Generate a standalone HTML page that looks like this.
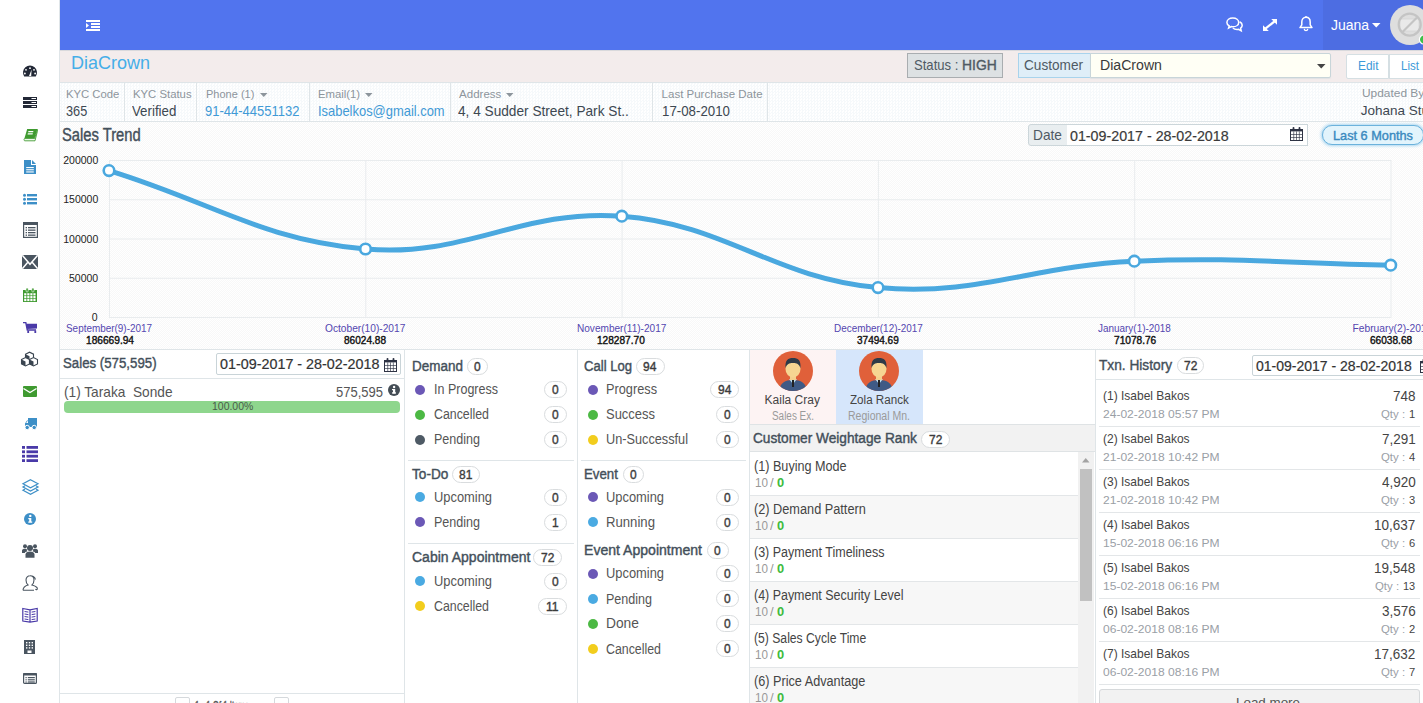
<!DOCTYPE html>
<html><head><meta charset="utf-8"><style>
html,body{margin:0;padding:0;}
html{overflow:hidden;width:1423px;height:703px;}
body{width:1423px;height:703px;overflow:hidden;position:relative;background:#fff;font-family:"Liberation Sans",sans-serif;}
.t{position:absolute;white-space:pre;}
.sb{-webkit-text-stroke:0.4px currentColor;}
.sm{-webkit-text-stroke:0.2px currentColor;}
.b{position:absolute;box-sizing:border-box;}
svg{position:absolute;overflow:visible;}
#root{position:absolute;left:0;top:0;width:1423px;height:703px;overflow:hidden;}
</style></head><body><div id="root">
<div class="b" style="left:0px;top:0px;width:60px;height:703px;background:#fff;border-right:1px solid #dfe5e8;"></div>
<div class="b" style="left:60px;top:0px;width:1363px;height:50px;background:#5174ee;"></div>
<div class="b" style="left:1323px;top:0px;width:100px;height:50px;background:#4d6de2;"></div>
<svg style="left:86px;top:20px" width="15" height="12"><rect x="0" y="0" width="14" height="2" fill="#fff"/><rect x="5" y="3" width="9" height="2" fill="#fff"/><rect x="5" y="6" width="9" height="2" fill="#fff"/><rect x="0" y="9" width="14" height="2" fill="#fff"/><path d="M0 3 L3 5.5 L0 8Z" fill="#fff"/></svg>
<div class="t" style="top:17px;font-size:14.25px;line-height:16px;color:#fff;left:1330.50px;transform:scaleX(0.9826);transform-origin:0 0;">Juana</div>
<svg style="left:1372px;top:23px" width="9" height="5"><path d="M0 0H8.5L4.25 4.5Z" fill="#fff"/></svg>
<svg style="left:1390px;top:5px" width="40" height="40"><circle cx="20" cy="20" r="20" fill="#dedede"/><rect x="10" y="14" width="19" height="12" fill="#e9e9e9" stroke="#d0d0d0" stroke-width="0.6"/><circle cx="19.7" cy="19.6" r="11" fill="none" stroke="#c4c4c4" stroke-width="2.2"/><path d="M12.5 27 L27 12.5" stroke="#c4c4c4" stroke-width="2.2"/></svg>
<svg style="left:1418px;top:34px" width="12" height="12"><circle cx="6" cy="5.5" r="4.6" fill="#3cbf4a" stroke="#fff" stroke-width="1.2"/></svg>
<div class="b" style="left:60px;top:50px;width:1363px;height:33px;background:#f3ecec;border-bottom:1px solid #dfe5e8;"></div>
<div class="b" style="left:60px;top:50px;width:1363px;height:1px;background:#d9d9dc;"></div>
<div class="t" style="top:52px;font-size:18.25px;line-height:21px;color:#45aee8;left:71.40px;transform:scaleX(0.9860);transform-origin:0 0;">DiaCrown</div>
<div class="b" style="left:907px;top:53px;width:96px;height:25px;background:#dde1e3;border:1px solid #a9adb0;"></div>
<div class="t" style="top:56px;font-size:15.00px;line-height:17px;color:#4f5a64;left:913.60px;transform:scaleX(0.8727);transform-origin:0 0;">Status :</div>
<div class="t sb" style="top:56px;font-size:15.00px;line-height:17px;color:#4f5a64;left:961.60px;transform:scaleX(0.9253);transform-origin:0 0;">HIGH</div>
<div class="b" style="left:1018px;top:53px;width:73px;height:25px;background:#dfeef8;border:1px solid #a8d3ec;"></div>
<div class="t" style="top:56px;font-size:15.00px;line-height:17px;color:#4f5a64;left:1024.30px;transform:scaleX(0.9077);transform-origin:0 0;">Customer</div>
<div class="b" style="left:1090px;top:53px;width:241px;height:25px;background:#fffff5;border:1px solid #c8d5d9;border-radius:0 2px 2px 0;box-shadow:0 1px 1px #dfe3e5;"></div>
<div class="t" style="top:56px;font-size:15.25px;line-height:17px;color:#3a3a3a;left:1100.00px;transform:scaleX(0.9254);transform-origin:0 0;">DiaCrown</div>
<svg style="left:1317px;top:64px" width="9" height="5"><path d="M0 0H8.5L4.25 4.5Z" fill="#444"/></svg>
<div class="b" style="left:1346px;top:54px;width:43px;height:25px;background:#fff;border:1px solid #d5dfe3;border-radius:2px 0 0 2px;"></div>
<div class="b" style="left:1389px;top:54px;width:40px;height:25px;background:#fff;border:1px solid #d5dfe3;"></div>
<div class="t" style="top:59px;font-size:12.25px;line-height:14px;color:#3d9ad9;left:1357.50px;transform:scaleX(0.9704);transform-origin:0 0;">Edit</div>
<div class="t" style="top:59px;font-size:12.25px;line-height:14px;color:#3d9ad9;left:1401.00px;transform:scaleX(0.9412);transform-origin:0 0;">List</div>
<div class="b" style="left:60px;top:83px;width:1363px;height:39px;background:repeating-conic-gradient(#f6f9fb 0 25%,#fff 0 50%) 0 0/3px 3px;border-bottom:1px solid #dfe5e8;"></div>
<div class="b" style="left:124px;top:83px;width:1px;height:38px;background:#dfe5e8;"></div>
<div class="b" style="left:196px;top:83px;width:1px;height:38px;background:#dfe5e8;"></div>
<div class="b" style="left:309px;top:83px;width:1px;height:38px;background:#dfe5e8;"></div>
<div class="b" style="left:450px;top:83px;width:1px;height:38px;background:#dfe5e8;"></div>
<div class="b" style="left:652px;top:83px;width:1px;height:38px;background:#dfe5e8;"></div>
<div class="b" style="left:767px;top:83px;width:1px;height:38px;background:#dfe5e8;"></div>
<div class="t" style="top:88px;font-size:11.50px;line-height:12px;color:#8d959c;left:65.70px;transform:scaleX(0.9784);transform-origin:0 0;">KYC Code</div>
<div class="t" style="top:103px;font-size:14.50px;line-height:16px;color:#3d4852;left:65.70px;transform:scaleX(0.8784);transform-origin:0 0;">365</div>
<div class="t" style="top:88px;font-size:11.50px;line-height:12px;color:#8d959c;left:132.80px;transform:scaleX(0.9849);transform-origin:0 0;">KYC Status</div>
<div class="t" style="top:103px;font-size:14.50px;line-height:16px;color:#3d4852;left:132.30px;transform:scaleX(0.9158);transform-origin:0 0;">Verified</div>
<div class="t" style="top:88px;font-size:11.50px;line-height:12px;color:#8d959c;left:205.60px;transform:scaleX(0.9584);transform-origin:0 0;">Phone (1)</div>
<svg style="left:259.5px;top:93px" width="8" height="5"><path d="M0 0H7.5L3.75 4Z" fill="#8d959c"/></svg>
<div class="t" style="top:103px;font-size:14.50px;line-height:16px;color:#3f9ad6;left:205.40px;transform:scaleX(0.8958);transform-origin:0 0;">91-44-44551132</div>
<div class="t" style="top:88px;font-size:11.50px;line-height:12px;color:#8d959c;left:318.40px;transform:scaleX(0.9843);transform-origin:0 0;">Email(1)</div>
<svg style="left:365px;top:93px" width="8" height="5"><path d="M0 0H7.5L3.75 4Z" fill="#8d959c"/></svg>
<div class="t" style="top:103px;font-size:14.50px;line-height:16px;color:#3f9ad6;left:318.40px;transform:scaleX(0.8915);transform-origin:0 0;">Isabelkos@gmail.com</div>
<div class="t" style="top:88px;font-size:11.50px;line-height:12px;color:#8d959c;left:459.10px;">Address</div>
<svg style="left:506.2px;top:93px" width="8" height="5"><path d="M0 0H7.5L3.75 4Z" fill="#8d959c"/></svg>
<div class="t" style="top:103px;font-size:14.50px;line-height:16px;color:#3d4852;left:458.40px;transform:scaleX(0.9417);transform-origin:0 0;">4, 4 Sudder Street, Park St..</div>
<div class="t" style="top:88px;font-size:11.50px;line-height:12px;color:#8d959c;left:661.60px;">Last Purchase Date</div>
<div class="t" style="top:103px;font-size:14.50px;line-height:16px;color:#3d4852;left:661.80px;transform:scaleX(0.9160);transform-origin:0 0;">17-08-2010</div>
<div class="t" style="top:86px;font-size:11.75px;line-height:13px;color:#8d959c;left:1361.80px;transform:scaleX(1.0134);transform-origin:0 0;">Updated By</div>
<div class="t" style="top:103px;font-size:13.50px;line-height:15px;color:#3d4852;left:1360.70px;">Johana Stuart</div>
<div class="b" style="left:60px;top:122px;width:1363px;height:228px;background:repeating-conic-gradient(#f8f8f8 0 25%,#fff 0 50%) 0 0/2px 2px;border-bottom:1px solid #dfe5e8;"></div>
<div class="t sb" style="top:125px;font-size:17.50px;line-height:20px;color:#434f5a;left:62.30px;transform:scaleX(0.8428);transform-origin:0 0;">Sales Trend</div>
<div class="b" style="left:1028px;top:124px;width:40px;height:22px;background:#e9eef0;border:1px solid #ccd6da;border-radius:3px 0 0 3px;"></div>
<div class="b" style="left:1067px;top:124px;width:241px;height:22px;background:#fff;border:1px solid #ccd6da;border-left:none;"></div>
<div class="t" style="top:127px;font-size:14.50px;line-height:16px;color:#4f5a64;left:1032.90px;transform:scaleX(0.9437);transform-origin:0 0;">Date</div>
<div class="t sm" style="top:127px;font-size:15.00px;line-height:17px;color:#3a3a3a;left:1070.00px;transform:scaleX(0.9511);transform-origin:0 0;">01-09-2017 - 28-02-2018</div>
<div class="b" style="left:1322px;top:125px;width:102px;height:20px;background:#e2f4fc;border:1.5px solid #6bb2dc;border-radius:10px;box-shadow:0 0 3px 1px #a9d6f0;"></div>
<div class="t sb" style="top:128px;font-size:13.00px;line-height:15px;color:#3a8abf;left:1332.80px;transform:scaleX(0.9789);transform-origin:0 0;">Last 6 Months</div>
<svg style="left:0;top:0" width="1423" height="703"><line x1="109" y1="160.50" x2="1391" y2="160.50" stroke="#e9ecee" stroke-width="1"/><line x1="109" y1="199.75" x2="1391" y2="199.75" stroke="#e9ecee" stroke-width="1"/><line x1="109" y1="239.00" x2="1391" y2="239.00" stroke="#e9ecee" stroke-width="1"/><line x1="109" y1="278.25" x2="1391" y2="278.25" stroke="#e9ecee" stroke-width="1"/><line x1="109" y1="317.50" x2="1391" y2="317.50" stroke="#e9ecee" stroke-width="1"/><line x1="109.50" y1="160" x2="109.50" y2="318" stroke="#e9ecee" stroke-width="1"/><line x1="365.80" y1="160" x2="365.80" y2="318" stroke="#e9ecee" stroke-width="1"/><line x1="622.10" y1="160" x2="622.10" y2="318" stroke="#e9ecee" stroke-width="1"/><line x1="878.40" y1="160" x2="878.40" y2="318" stroke="#e9ecee" stroke-width="1"/><line x1="1134.70" y1="160" x2="1134.70" y2="318" stroke="#e9ecee" stroke-width="1"/><line x1="1391.00" y1="160" x2="1391.00" y2="318" stroke="#e9ecee" stroke-width="1"/><path d="M109.00 170.60 C211.60 201.96 261.03 239.71 365.50 249.00 C466.15 257.95 520.78 208.59 621.80 216.20 C725.78 224.03 773.87 278.46 878.00 287.60 C978.87 296.46 1031.52 265.69 1134.30 261.20 C1236.60 256.73 1288.14 263.60 1390.70 265.20" fill="none" stroke="#4aa8df" stroke-width="5" stroke-linecap="round"/><circle cx="109.00" cy="170.60" r="5.3" fill="#fff" stroke="#4aa8df" stroke-width="2.6"/><circle cx="365.50" cy="249.00" r="5.3" fill="#fff" stroke="#4aa8df" stroke-width="2.6"/><circle cx="621.80" cy="216.20" r="5.3" fill="#fff" stroke="#4aa8df" stroke-width="2.6"/><circle cx="878.00" cy="287.60" r="5.3" fill="#fff" stroke="#4aa8df" stroke-width="2.6"/><circle cx="1134.30" cy="261.20" r="5.3" fill="#fff" stroke="#4aa8df" stroke-width="2.6"/><circle cx="1390.70" cy="265.20" r="5.3" fill="#fff" stroke="#4aa8df" stroke-width="2.6"/></svg>
<div class="t" style="top:154px;font-size:10.50px;line-height:12px;color:#222;left:63.25px;">200000</div>
<div class="t" style="top:193px;font-size:10.50px;line-height:12px;color:#222;left:63.25px;">150000</div>
<div class="t" style="top:233px;font-size:10.50px;line-height:12px;color:#222;left:63.25px;">100000</div>
<div class="t" style="top:272px;font-size:10.50px;line-height:12px;color:#222;left:69.00px;">50000</div>
<div class="t" style="top:311px;font-size:10.50px;line-height:12px;color:#222;left:91.75px;">0</div>
<div class="t" style="top:323px;font-size:10.25px;line-height:11px;color:#5446b0;left:66.00px;transform:scaleX(0.9677);transform-origin:0 0;">September(9)-2017</div>
<div class="t sb" style="top:334px;font-size:10.50px;line-height:12px;color:#111;left:85.50px;transform:scaleX(0.9673);transform-origin:0 0;">186669.94</div>
<div class="t" style="top:323px;font-size:10.25px;line-height:11px;color:#5446b0;left:325.40px;transform:scaleX(0.9929);transform-origin:0 0;">October(10)-2017</div>
<div class="t sb" style="top:334px;font-size:10.50px;line-height:12px;color:#111;left:344.40px;transform:scaleX(0.9600);transform-origin:0 0;">86024.88</div>
<div class="t" style="top:323px;font-size:10.25px;line-height:11px;color:#5446b0;left:576.90px;transform:scaleX(0.9824);transform-origin:0 0;">November(11)-2017</div>
<div class="t sb" style="top:334px;font-size:10.50px;line-height:12px;color:#111;left:597.40px;transform:scaleX(0.9632);transform-origin:0 0;">128287.70</div>
<div class="t" style="top:323px;font-size:10.25px;line-height:11px;color:#5446b0;left:833.50px;transform:scaleX(0.9689);transform-origin:0 0;">December(12)-2017</div>
<div class="t sb" style="top:334px;font-size:10.50px;line-height:12px;color:#111;left:857.10px;transform:scaleX(0.9531);transform-origin:0 0;">37494.69</div>
<div class="t" style="top:323px;font-size:10.25px;line-height:11px;color:#5446b0;left:1098.10px;transform:scaleX(0.9688);transform-origin:0 0;">January(1)-2018</div>
<div class="t sb" style="top:334px;font-size:10.50px;line-height:12px;color:#111;left:1113.70px;transform:scaleX(0.9646);transform-origin:0 0;">71078.76</div>
<div class="t" style="top:323px;font-size:10.25px;line-height:11px;color:#5446b0;left:1352.50px;">February(2)-2018</div>
<div class="t sb" style="top:334px;font-size:10.50px;line-height:12px;color:#111;left:1369.90px;transform:scaleX(0.9623);transform-origin:0 0;">66038.68</div>
<div class="b" style="left:60px;top:350px;width:1363px;height:353px;background:#fff;"></div>
<div class="b" style="left:404px;top:350px;width:1px;height:353px;background:#dfe5e8;"></div>
<div class="b" style="left:577px;top:350px;width:1px;height:353px;background:#dfe5e8;"></div>
<div class="b" style="left:749px;top:350px;width:1px;height:353px;background:#dfe5e8;"></div>
<div class="b" style="left:1095px;top:350px;width:1px;height:353px;background:#dfe5e8;"></div>
<div class="b" style="left:60px;top:378px;width:344px;height:1px;background:#dfe5e8;"></div>
<div class="t sb" style="top:354px;font-size:15.50px;line-height:17px;color:#434f5a;left:63.00px;transform:scaleX(0.8548);transform-origin:0 0;">Sales (575,595)</div>
<div class="b" style="left:216px;top:353px;width:185px;height:22px;background:#fff;border:1px solid #c9d4d8;border-radius:2px;"></div>
<div class="t sm" style="top:356px;font-size:14.00px;line-height:16px;color:#333;left:219.60px;transform:scaleX(1.0243);transform-origin:0 0;">01-09-2017 - 28-02-2018</div>
<div class="t" style="top:384px;font-size:14.50px;line-height:16px;color:#555;left:64.00px;transform:scaleX(0.9435);transform-origin:0 0;">(1) Taraka  Sonde</div>
<div class="t" style="top:384px;font-size:14.50px;line-height:16px;color:#555;left:336.00px;transform:scaleX(0.8974);transform-origin:0 0;">575,595</div>
<svg style="left:388px;top:384px" width="12" height="12"><circle cx="6" cy="6" r="6" fill="#444d55"/><rect x="5" y="5" width="2.2" height="4.5" fill="#fff"/><rect x="4" y="8.3" width="4" height="1.3" fill="#fff"/><rect x="4" y="5" width="2" height="1.2" fill="#fff"/><circle cx="6.1" cy="3" r="1.2" fill="#fff"/></svg>
<div class="b" style="left:64px;top:401px;width:336px;height:12px;background:#8ed68d;border-radius:4px;"></div>
<div class="t" style="top:401px;font-size:10.25px;line-height:11px;color:#4a5a4a;left:211.50px;transform:scaleX(1.0198);transform-origin:0 0;">100.00%</div>
<div class="b" style="left:60px;top:693px;width:344px;height:1px;background:#dfe5e8;"></div>
<div class="b" style="left:175px;top:697px;width:15px;height:16px;background:#fff;border:1px solid #d5d9dc;border-radius:2px;"></div>
<div class="b" style="left:274px;top:697px;width:15px;height:16px;background:#fff;border:1px solid #d5d9dc;border-radius:2px;"></div>
<div class="t sb" style="top:698px;font-size:13.00px;line-height:15px;color:#555;left:195.00px;transform:scaleX(0.6025);transform-origin:0 0;">1 - 1 Of 1 Items</div>
<div class="t sb" style="top:358px;font-size:14.25px;line-height:16px;color:#434f5a;left:411.70px;transform:scaleX(0.9448);transform-origin:0 0;">Demand</div>
<div class="b" style="left:466.5px;top:358.0px;width:21.9px;height:17px;background:#fff;border:1px solid #d9dcde;border-radius:9px;"></div>
<div class="t sb" style="top:359px;font-size:13.25px;line-height:15px;color:#3c3c3c;left:474.12px;transform:scaleX(0.9044);transform-origin:0 0;">0</div>
<svg style="left:415.2px;top:384.5px" width="10" height="10"><circle cx="5" cy="5" r="5" fill="#6b58b6"/></svg>
<div class="t" style="top:381px;font-size:14.25px;line-height:16px;color:#555;left:433.70px;transform:scaleX(0.8782);transform-origin:0 0;">In Progress</div>
<div class="b" style="left:543.7px;top:381.0px;width:23.0px;height:17px;background:#fff;border:1px solid #d9dcde;border-radius:9px;"></div>
<div class="t sb" style="top:382px;font-size:13.25px;line-height:15px;color:#3c3c3c;left:551.87px;transform:scaleX(0.9044);transform-origin:0 0;">0</div>
<svg style="left:415.2px;top:409.5px" width="10" height="10"><circle cx="5" cy="5" r="5" fill="#4cb944"/></svg>
<div class="t" style="top:406px;font-size:14.25px;line-height:16px;color:#555;left:433.70px;transform:scaleX(0.8679);transform-origin:0 0;">Cancelled</div>
<div class="b" style="left:543.7px;top:406.0px;width:23.0px;height:17px;background:#fff;border:1px solid #d9dcde;border-radius:9px;"></div>
<div class="t sb" style="top:407px;font-size:13.25px;line-height:15px;color:#3c3c3c;left:551.87px;transform:scaleX(0.9044);transform-origin:0 0;">0</div>
<svg style="left:415.2px;top:434.5px" width="10" height="10"><circle cx="5" cy="5" r="5" fill="#4e5a65"/></svg>
<div class="t" style="top:431px;font-size:14.25px;line-height:16px;color:#555;left:433.70px;transform:scaleX(0.8804);transform-origin:0 0;">Pending</div>
<div class="b" style="left:543.7px;top:431.0px;width:23.0px;height:17px;background:#fff;border:1px solid #d9dcde;border-radius:9px;"></div>
<div class="t sb" style="top:432px;font-size:13.25px;line-height:15px;color:#3c3c3c;left:551.87px;transform:scaleX(0.9044);transform-origin:0 0;">0</div>
<div class="b" style="left:408px;top:460px;width:166px;height:1px;background:#dfe5e8;"></div>
<div class="t sb" style="top:466px;font-size:14.25px;line-height:16px;color:#434f5a;left:411.70px;transform:scaleX(0.9553);transform-origin:0 0;">To-Do</div>
<div class="b" style="left:452px;top:465.7px;width:28.3px;height:17px;background:#fff;border:1px solid #d9dcde;border-radius:9px;"></div>
<div class="t sb" style="top:467px;font-size:13.25px;line-height:15px;color:#3c3c3c;left:459.48px;transform:scaleX(0.9044);transform-origin:0 0;">81</div>
<svg style="left:415.2px;top:492px" width="10" height="10"><circle cx="5" cy="5" r="5" fill="#4aaae2"/></svg>
<div class="t" style="top:489px;font-size:14.25px;line-height:16px;color:#555;left:433.70px;transform:scaleX(0.9045);transform-origin:0 0;">Upcoming</div>
<div class="b" style="left:543.7px;top:488.5px;width:23.0px;height:17px;background:#fff;border:1px solid #d9dcde;border-radius:9px;"></div>
<div class="t sb" style="top:490px;font-size:13.25px;line-height:15px;color:#3c3c3c;left:551.87px;transform:scaleX(0.9044);transform-origin:0 0;">0</div>
<svg style="left:415.2px;top:517px" width="10" height="10"><circle cx="5" cy="5" r="5" fill="#6b58b6"/></svg>
<div class="t" style="top:514px;font-size:14.25px;line-height:16px;color:#555;left:433.70px;transform:scaleX(0.8804);transform-origin:0 0;">Pending</div>
<div class="b" style="left:543.7px;top:513.5px;width:23.0px;height:17px;background:#fff;border:1px solid #d9dcde;border-radius:9px;"></div>
<div class="t sb" style="top:515px;font-size:13.25px;line-height:15px;color:#3c3c3c;left:551.87px;transform:scaleX(0.9044);transform-origin:0 0;">1</div>
<div class="b" style="left:408px;top:543px;width:166px;height:1px;background:#dfe5e8;"></div>
<div class="t sb" style="top:549px;font-size:14.25px;line-height:16px;color:#434f5a;left:411.70px;transform:scaleX(0.9828);transform-origin:0 0;">Cabin Appointment</div>
<div class="b" style="left:533px;top:548.7px;width:29px;height:17px;background:#fff;border:1px solid #d9dcde;border-radius:9px;"></div>
<div class="t sb" style="top:550px;font-size:13.25px;line-height:15px;color:#3c3c3c;left:540.83px;transform:scaleX(0.9044);transform-origin:0 0;">72</div>
<svg style="left:415.2px;top:576px" width="10" height="10"><circle cx="5" cy="5" r="5" fill="#4aaae2"/></svg>
<div class="t" style="top:573px;font-size:14.25px;line-height:16px;color:#555;left:433.70px;transform:scaleX(0.9045);transform-origin:0 0;">Upcoming</div>
<div class="b" style="left:543.7px;top:572.5px;width:23.0px;height:17px;background:#fff;border:1px solid #d9dcde;border-radius:9px;"></div>
<div class="t sb" style="top:574px;font-size:13.25px;line-height:15px;color:#3c3c3c;left:551.87px;transform:scaleX(0.9044);transform-origin:0 0;">0</div>
<svg style="left:415.2px;top:601px" width="10" height="10"><circle cx="5" cy="5" r="5" fill="#f2cd1d"/></svg>
<div class="t" style="top:598px;font-size:14.25px;line-height:16px;color:#555;left:433.70px;transform:scaleX(0.8679);transform-origin:0 0;">Cancelled</div>
<div class="b" style="left:537.7px;top:597.5px;width:29.0px;height:17px;background:#fff;border:1px solid #d9dcde;border-radius:9px;"></div>
<div class="t sb" style="top:599px;font-size:13.25px;line-height:15px;color:#3c3c3c;left:545.88px;transform:scaleX(0.9200);transform-origin:0 0;">11</div>
<div class="t sb" style="top:358px;font-size:14.25px;line-height:16px;color:#434f5a;left:584.00px;transform:scaleX(0.9187);transform-origin:0 0;">Call Log</div>
<div class="b" style="left:635.7px;top:358.0px;width:28.9px;height:17px;background:#fff;border:1px solid #d9dcde;border-radius:9px;"></div>
<div class="t sb" style="top:359px;font-size:13.25px;line-height:15px;color:#3c3c3c;left:643.48px;transform:scaleX(0.9044);transform-origin:0 0;">94</div>
<svg style="left:587.5px;top:384.5px" width="10" height="10"><circle cx="5" cy="5" r="5" fill="#6b58b6"/></svg>
<div class="t" style="top:381px;font-size:14.25px;line-height:16px;color:#555;left:606.00px;transform:scaleX(0.8947);transform-origin:0 0;">Progress</div>
<div class="b" style="left:710px;top:381.0px;width:29px;height:17px;background:#fff;border:1px solid #d9dcde;border-radius:9px;"></div>
<div class="t sb" style="top:382px;font-size:13.25px;line-height:15px;color:#3c3c3c;left:717.83px;transform:scaleX(0.9044);transform-origin:0 0;">94</div>
<svg style="left:587.5px;top:409.5px" width="10" height="10"><circle cx="5" cy="5" r="5" fill="#4cb944"/></svg>
<div class="t" style="top:406px;font-size:14.25px;line-height:16px;color:#555;left:606.00px;transform:scaleX(0.9095);transform-origin:0 0;">Success</div>
<div class="b" style="left:716px;top:406.0px;width:23px;height:17px;background:#fff;border:1px solid #d9dcde;border-radius:9px;"></div>
<div class="t sb" style="top:407px;font-size:13.25px;line-height:15px;color:#3c3c3c;left:724.16px;transform:scaleX(0.9044);transform-origin:0 0;">0</div>
<svg style="left:587.5px;top:434.5px" width="10" height="10"><circle cx="5" cy="5" r="5" fill="#f2cd1d"/></svg>
<div class="t" style="top:431px;font-size:14.25px;line-height:16px;color:#555;left:606.00px;transform:scaleX(0.8925);transform-origin:0 0;">Un-Successful</div>
<div class="b" style="left:716px;top:431.0px;width:23px;height:17px;background:#fff;border:1px solid #d9dcde;border-radius:9px;"></div>
<div class="t sb" style="top:432px;font-size:13.25px;line-height:15px;color:#3c3c3c;left:724.16px;transform:scaleX(0.9044);transform-origin:0 0;">0</div>
<div class="b" style="left:581px;top:460px;width:165px;height:1px;background:#dfe5e8;"></div>
<div class="t sb" style="top:466px;font-size:14.25px;line-height:16px;color:#434f5a;left:584.00px;transform:scaleX(0.9315);transform-origin:0 0;">Event</div>
<div class="b" style="left:622.7px;top:465.7px;width:21.6px;height:17px;background:#fff;border:1px solid #d9dcde;border-radius:9px;"></div>
<div class="t sb" style="top:467px;font-size:13.25px;line-height:15px;color:#3c3c3c;left:630.16px;transform:scaleX(0.9044);transform-origin:0 0;">0</div>
<svg style="left:587.5px;top:492px" width="10" height="10"><circle cx="5" cy="5" r="5" fill="#6b58b6"/></svg>
<div class="t" style="top:489px;font-size:14.25px;line-height:16px;color:#555;left:606.00px;transform:scaleX(0.9045);transform-origin:0 0;">Upcoming</div>
<div class="b" style="left:716px;top:488.5px;width:23px;height:17px;background:#fff;border:1px solid #d9dcde;border-radius:9px;"></div>
<div class="t sb" style="top:490px;font-size:13.25px;line-height:15px;color:#3c3c3c;left:724.16px;transform:scaleX(0.9044);transform-origin:0 0;">0</div>
<svg style="left:587.5px;top:517px" width="10" height="10"><circle cx="5" cy="5" r="5" fill="#4aaae2"/></svg>
<div class="t" style="top:514px;font-size:14.25px;line-height:16px;color:#555;left:606.00px;transform:scaleX(0.9224);transform-origin:0 0;">Running</div>
<div class="b" style="left:716px;top:513.5px;width:23px;height:17px;background:#fff;border:1px solid #d9dcde;border-radius:9px;"></div>
<div class="t sb" style="top:515px;font-size:13.25px;line-height:15px;color:#3c3c3c;left:724.16px;transform:scaleX(0.9044);transform-origin:0 0;">0</div>
<div class="t sb" style="top:542px;font-size:14.25px;line-height:16px;color:#434f5a;left:584.00px;transform:scaleX(0.9864);transform-origin:0 0;">Event Appointment</div>
<div class="b" style="left:706.6px;top:541.7px;width:22.1px;height:17px;background:#fff;border:1px solid #d9dcde;border-radius:9px;"></div>
<div class="t sb" style="top:543px;font-size:13.25px;line-height:15px;color:#3c3c3c;left:714.32px;transform:scaleX(0.9044);transform-origin:0 0;">0</div>
<svg style="left:587.5px;top:568.6px" width="10" height="10"><circle cx="5" cy="5" r="5" fill="#6b58b6"/></svg>
<div class="t" style="top:565px;font-size:14.25px;line-height:16px;color:#555;left:606.00px;transform:scaleX(0.9045);transform-origin:0 0;">Upcoming</div>
<div class="b" style="left:716px;top:565.1px;width:23px;height:17px;background:#fff;border:1px solid #d9dcde;border-radius:9px;"></div>
<div class="t sb" style="top:566px;font-size:13.25px;line-height:15px;color:#3c3c3c;left:724.16px;transform:scaleX(0.9044);transform-origin:0 0;">0</div>
<svg style="left:587.5px;top:593.6px" width="10" height="10"><circle cx="5" cy="5" r="5" fill="#4aaae2"/></svg>
<div class="t" style="top:591px;font-size:14.25px;line-height:16px;color:#555;left:606.00px;transform:scaleX(0.8804);transform-origin:0 0;">Pending</div>
<div class="b" style="left:716px;top:590.1px;width:23px;height:17px;background:#fff;border:1px solid #d9dcde;border-radius:9px;"></div>
<div class="t sb" style="top:591px;font-size:13.25px;line-height:15px;color:#3c3c3c;left:724.16px;transform:scaleX(0.9044);transform-origin:0 0;">0</div>
<svg style="left:587.5px;top:618.6px" width="10" height="10"><circle cx="5" cy="5" r="5" fill="#4cb944"/></svg>
<div class="t" style="top:615px;font-size:14.25px;line-height:16px;color:#555;left:606.00px;transform:scaleX(0.9670);transform-origin:0 0;">Done</div>
<div class="b" style="left:716px;top:615.1px;width:23px;height:17px;background:#fff;border:1px solid #d9dcde;border-radius:9px;"></div>
<div class="t sb" style="top:616px;font-size:13.25px;line-height:15px;color:#3c3c3c;left:724.16px;transform:scaleX(0.9044);transform-origin:0 0;">0</div>
<svg style="left:587.5px;top:643.6px" width="10" height="10"><circle cx="5" cy="5" r="5" fill="#f2cd1d"/></svg>
<div class="t" style="top:641px;font-size:14.25px;line-height:16px;color:#555;left:606.00px;transform:scaleX(0.8679);transform-origin:0 0;">Cancelled</div>
<div class="b" style="left:716px;top:640.1px;width:23px;height:17px;background:#fff;border:1px solid #d9dcde;border-radius:9px;"></div>
<div class="t sb" style="top:641px;font-size:13.25px;line-height:15px;color:#3c3c3c;left:724.16px;transform:scaleX(0.9044);transform-origin:0 0;">0</div>
<div class="b" style="left:750px;top:350px;width:86px;height:74px;background:#fdf3f3;"></div>
<div class="b" style="left:836px;top:350px;width:87px;height:74px;background:#d6e6fb;"></div>
<svg style="left:773px;top:351px" width="40" height="40" viewBox="0 0 40 40"><defs><clipPath id="c793"><circle cx="20" cy="20" r="20"/></clipPath></defs><circle cx="20" cy="20" r="20" fill="#e0603a"/><g clip-path="url(#c793)"><path d="M6 40 C7 32 12 29 20 29 C28 29 33 32 34 40Z" fill="#3f5a85"/><path d="M16 28 L20 33 L24 28Z" fill="#bfe0f0"/><rect x="19" y="29" width="2" height="7" fill="#222"/><rect x="17" y="22" width="6" height="7" fill="#f4cf8e"/><ellipse cx="20" cy="18" rx="7.5" ry="8.5" fill="#f6d592"/><path d="M12.5 17 C12 9 15 7 20 7 C25 7 28 9 27.5 17 C26 13 24 12 20 12 C16 12 14 13 12.5 17Z" fill="#2e3a48"/></g></svg>
<svg style="left:859px;top:351px" width="40" height="40" viewBox="0 0 40 40"><defs><clipPath id="c879"><circle cx="20" cy="20" r="20"/></clipPath></defs><circle cx="20" cy="20" r="20" fill="#e0603a"/><g clip-path="url(#c879)"><path d="M6 40 C7 32 12 29 20 29 C28 29 33 32 34 40Z" fill="#3f5a85"/><path d="M16 28 L20 33 L24 28Z" fill="#bfe0f0"/><rect x="19" y="29" width="2" height="7" fill="#222"/><rect x="17" y="22" width="6" height="7" fill="#f4cf8e"/><ellipse cx="20" cy="18" rx="7.5" ry="8.5" fill="#f6d592"/><path d="M12.5 17 C12 9 15 7 20 7 C25 7 28 9 27.5 17 C26 13 24 12 20 12 C16 12 14 13 12.5 17Z" fill="#2e3a48"/></g></svg>
<div class="t" style="top:393px;font-size:12.00px;line-height:14px;color:#444;left:764.60px;">Kaila Cray</div>
<div class="t" style="top:409px;font-size:12.00px;line-height:14px;color:#9a9a9a;left:772.00px;transform:scaleX(0.8276);transform-origin:0 0;">Sales Ex.</div>
<div class="t" style="top:393px;font-size:12.00px;line-height:14px;color:#444;left:850.00px;transform:scaleX(0.9692);transform-origin:0 0;">Zola Ranck</div>
<div class="t" style="top:409px;font-size:12.00px;line-height:14px;color:#9a9a9a;left:848.00px;transform:scaleX(0.8763);transform-origin:0 0;">Regional Mn.</div>
<div class="b" style="left:750px;top:424px;width:345px;height:28px;background:#f2f2f2;border-top:1px solid #dfe3e5;border-bottom:1px solid #dfe3e5;"></div>
<div class="t sb" style="top:430px;font-size:14.00px;line-height:16px;color:#434f5a;left:753.00px;transform:scaleX(0.9762);transform-origin:0 0;">Customer Weightage Rank</div>
<div class="b" style="left:921px;top:430.5px;width:28.6px;height:17px;background:#fff;border:1px solid #d9dcde;border-radius:9px;"></div>
<div class="t sb" style="top:432px;font-size:13.25px;line-height:15px;color:#3c3c3c;left:928.63px;transform:scaleX(0.9044);transform-origin:0 0;">72</div>
<div class="b" style="left:750px;top:452px;width:328px;height:44px;background:#fff;border-bottom:1px solid #e3e6e8;"></div>
<div class="t" style="top:458px;font-size:14.25px;line-height:16px;color:#444;left:754.20px;transform:scaleX(0.8861);transform-origin:0 0;">(1) Buying Mode</div>
<div class="t" style="top:476px;font-size:12.00px;line-height:14px;color:#999;left:754.50px;transform:scaleX(0.9720);transform-origin:0 0;">10</div>
<div class="t" style="top:475px;font-size:12.75px;line-height:15px;color:#999;left:770.00px;transform:scaleX(1.0207);transform-origin:0 0;">/</div>
<div class="t" style="top:475px;font-size:12.75px;line-height:15px;color:#3dbb3d;font-weight:bold;left:777.00px;transform:scaleX(1.0105);transform-origin:0 0;">0</div>
<div class="b" style="left:750px;top:496px;width:328px;height:43px;background:#f7f7f7;border-bottom:1px solid #e3e6e8;"></div>
<div class="t" style="top:501px;font-size:14.25px;line-height:16px;color:#444;left:754.20px;transform:scaleX(0.8935);transform-origin:0 0;">(2) Demand Pattern</div>
<div class="t" style="top:519px;font-size:12.00px;line-height:14px;color:#999;left:754.50px;transform:scaleX(0.9720);transform-origin:0 0;">10</div>
<div class="t" style="top:518px;font-size:12.75px;line-height:15px;color:#999;left:770.00px;transform:scaleX(1.0207);transform-origin:0 0;">/</div>
<div class="t" style="top:518px;font-size:12.75px;line-height:15px;color:#3dbb3d;font-weight:bold;left:777.00px;transform:scaleX(1.0105);transform-origin:0 0;">0</div>
<div class="b" style="left:750px;top:539px;width:328px;height:43px;background:#fff;border-bottom:1px solid #e3e6e8;"></div>
<div class="t" style="top:544px;font-size:14.25px;line-height:16px;color:#444;left:754.20px;transform:scaleX(0.8766);transform-origin:0 0;">(3) Payment Timeliness</div>
<div class="t" style="top:562px;font-size:12.00px;line-height:14px;color:#999;left:754.50px;transform:scaleX(0.9720);transform-origin:0 0;">10</div>
<div class="t" style="top:561px;font-size:12.75px;line-height:15px;color:#999;left:770.00px;transform:scaleX(1.0207);transform-origin:0 0;">/</div>
<div class="t" style="top:561px;font-size:12.75px;line-height:15px;color:#3dbb3d;font-weight:bold;left:777.00px;transform:scaleX(1.0105);transform-origin:0 0;">0</div>
<div class="b" style="left:750px;top:582px;width:328px;height:43px;background:#f7f7f7;border-bottom:1px solid #e3e6e8;"></div>
<div class="t" style="top:587px;font-size:14.25px;line-height:16px;color:#444;left:754.20px;transform:scaleX(0.8736);transform-origin:0 0;">(4) Payment Security Level</div>
<div class="t" style="top:605px;font-size:12.00px;line-height:14px;color:#999;left:754.50px;transform:scaleX(0.9720);transform-origin:0 0;">10</div>
<div class="t" style="top:604px;font-size:12.75px;line-height:15px;color:#999;left:770.00px;transform:scaleX(1.0207);transform-origin:0 0;">/</div>
<div class="t" style="top:604px;font-size:12.75px;line-height:15px;color:#3dbb3d;font-weight:bold;left:777.00px;transform:scaleX(1.0105);transform-origin:0 0;">0</div>
<div class="b" style="left:750px;top:625px;width:328px;height:43px;background:#fff;border-bottom:1px solid #e3e6e8;"></div>
<div class="t" style="top:630px;font-size:14.25px;line-height:16px;color:#444;left:754.20px;transform:scaleX(0.8540);transform-origin:0 0;">(5) Sales Cycle Time</div>
<div class="t" style="top:648px;font-size:12.00px;line-height:14px;color:#999;left:754.50px;transform:scaleX(0.9720);transform-origin:0 0;">10</div>
<div class="t" style="top:647px;font-size:12.75px;line-height:15px;color:#999;left:770.00px;transform:scaleX(1.0207);transform-origin:0 0;">/</div>
<div class="t" style="top:647px;font-size:12.75px;line-height:15px;color:#3dbb3d;font-weight:bold;left:777.00px;transform:scaleX(1.0105);transform-origin:0 0;">0</div>
<div class="b" style="left:750px;top:668px;width:328px;height:43px;background:#f7f7f7;border-bottom:1px solid #e3e6e8;"></div>
<div class="t" style="top:673px;font-size:14.25px;line-height:16px;color:#444;left:754.20px;transform:scaleX(0.8895);transform-origin:0 0;">(6) Price Advantage</div>
<div class="t" style="top:691px;font-size:12.00px;line-height:14px;color:#999;left:754.50px;transform:scaleX(0.9720);transform-origin:0 0;">10</div>
<div class="t" style="top:690px;font-size:12.75px;line-height:15px;color:#999;left:770.00px;transform:scaleX(1.0207);transform-origin:0 0;">/</div>
<div class="t" style="top:690px;font-size:12.75px;line-height:15px;color:#3dbb3d;font-weight:bold;left:777.00px;transform:scaleX(1.0105);transform-origin:0 0;">0</div>
<div class="b" style="left:1078px;top:452px;width:16px;height:251px;background:#f1f1f1;"></div>
<div class="b" style="left:1080px;top:469px;width:12px;height:132px;background:#c1c1c1;"></div>
<svg style="left:1082px;top:458px" width="8" height="5"><path d="M0 4.5H7.5L3.75 0Z" fill="#a3a3a3"/></svg>
<div class="b" style="left:1096px;top:379px;width:327px;height:1px;background:#dfe5e8;"></div>
<div class="t sb" style="top:356px;font-size:15.50px;line-height:17px;color:#434f5a;left:1099.40px;transform:scaleX(0.8835);transform-origin:0 0;">Txn. History</div>
<div class="b" style="left:1176.6px;top:357.0px;width:27.6px;height:17px;background:#fff;border:1px solid #d9dcde;border-radius:9px;"></div>
<div class="t sb" style="top:358px;font-size:13.25px;line-height:15px;color:#3c3c3c;left:1183.73px;transform:scaleX(0.9044);transform-origin:0 0;">72</div>
<div class="b" style="left:1252px;top:355px;width:175px;height:21px;background:#fff;border:1px solid #c9d4d8;border-radius:2px;"></div>
<div class="t sm" style="top:358px;font-size:14.00px;line-height:16px;color:#333;left:1256.00px;">01-09-2017 - 28-02-2018</div>
<div class="t" style="top:389px;font-size:12.25px;line-height:14px;color:#444;left:1103.40px;transform:scaleX(0.9785);transform-origin:0 0;">(1) Isabel Bakos</div>
<div class="t" style="top:408px;font-size:11.25px;line-height:12px;color:#9aa0a6;left:1103.40px;transform:scaleX(1.0710);transform-origin:0 0;">24-02-2018 05:57 PM</div>
<div class="t" style="top:388px;font-size:14.50px;line-height:16px;color:#444;left:1392.95px;transform:scaleX(0.9300);transform-origin:0 0;">748</div>
<div class="t" style="top:407px;font-size:11.75px;line-height:13px;color:#444;left:1409.33px;transform:scaleX(0.9500);transform-origin:0 0;">1</div>
<div class="t" style="top:407px;font-size:11.75px;line-height:13px;color:#9aa0a6;left:1380.83px;transform:scaleX(0.9697);transform-origin:0 0;">Qty :</div>
<div class="b" style="left:1099px;top:426px;width:321px;height:1px;background:#e3e6e8;"></div>
<div class="t" style="top:432px;font-size:12.25px;line-height:14px;color:#444;left:1103.40px;transform:scaleX(0.9785);transform-origin:0 0;">(2) Isabel Bakos</div>
<div class="t" style="top:451px;font-size:11.25px;line-height:12px;color:#9aa0a6;left:1103.40px;transform:scaleX(1.0710);transform-origin:0 0;">21-02-2018 10:42 PM</div>
<div class="t" style="top:431px;font-size:14.50px;line-height:16px;color:#444;left:1381.79px;transform:scaleX(0.9300);transform-origin:0 0;">7,291</div>
<div class="t" style="top:450px;font-size:11.75px;line-height:13px;color:#444;left:1409.33px;transform:scaleX(0.9500);transform-origin:0 0;">4</div>
<div class="t" style="top:450px;font-size:11.75px;line-height:13px;color:#9aa0a6;left:1380.83px;transform:scaleX(0.9697);transform-origin:0 0;">Qty :</div>
<div class="b" style="left:1099px;top:469px;width:321px;height:1px;background:#e3e6e8;"></div>
<div class="t" style="top:475px;font-size:12.25px;line-height:14px;color:#444;left:1103.40px;transform:scaleX(0.9785);transform-origin:0 0;">(3) Isabel Bakos</div>
<div class="t" style="top:494px;font-size:11.25px;line-height:12px;color:#9aa0a6;left:1103.40px;transform:scaleX(1.0710);transform-origin:0 0;">21-02-2018 10:42 PM</div>
<div class="t" style="top:474px;font-size:14.50px;line-height:16px;color:#444;left:1381.79px;transform:scaleX(0.9300);transform-origin:0 0;">4,920</div>
<div class="t" style="top:493px;font-size:11.75px;line-height:13px;color:#444;left:1409.33px;transform:scaleX(0.9500);transform-origin:0 0;">3</div>
<div class="t" style="top:493px;font-size:11.75px;line-height:13px;color:#9aa0a6;left:1380.83px;transform:scaleX(0.9697);transform-origin:0 0;">Qty :</div>
<div class="b" style="left:1099px;top:512px;width:321px;height:1px;background:#e3e6e8;"></div>
<div class="t" style="top:518px;font-size:12.25px;line-height:14px;color:#444;left:1103.40px;transform:scaleX(0.9785);transform-origin:0 0;">(4) Isabel Bakos</div>
<div class="t" style="top:537px;font-size:11.25px;line-height:12px;color:#9aa0a6;left:1103.40px;transform:scaleX(1.0710);transform-origin:0 0;">15-02-2018 06:16 PM</div>
<div class="t" style="top:517px;font-size:14.50px;line-height:16px;color:#444;left:1374.23px;transform:scaleX(0.9300);transform-origin:0 0;">10,637</div>
<div class="t" style="top:536px;font-size:11.75px;line-height:13px;color:#444;left:1409.33px;transform:scaleX(0.9500);transform-origin:0 0;">6</div>
<div class="t" style="top:536px;font-size:11.75px;line-height:13px;color:#9aa0a6;left:1380.83px;transform:scaleX(0.9697);transform-origin:0 0;">Qty :</div>
<div class="b" style="left:1099px;top:555px;width:321px;height:1px;background:#e3e6e8;"></div>
<div class="t" style="top:561px;font-size:12.25px;line-height:14px;color:#444;left:1103.40px;transform:scaleX(0.9785);transform-origin:0 0;">(5) Isabel Bakos</div>
<div class="t" style="top:580px;font-size:11.25px;line-height:12px;color:#9aa0a6;left:1103.40px;transform:scaleX(1.0710);transform-origin:0 0;">15-02-2018 06:16 PM</div>
<div class="t" style="top:560px;font-size:14.50px;line-height:16px;color:#444;left:1374.23px;transform:scaleX(0.9300);transform-origin:0 0;">19,548</div>
<div class="t" style="top:579px;font-size:11.75px;line-height:13px;color:#444;left:1403.27px;transform:scaleX(0.9319);transform-origin:0 0;">13</div>
<div class="t" style="top:579px;font-size:11.75px;line-height:13px;color:#9aa0a6;left:1374.77px;transform:scaleX(0.9697);transform-origin:0 0;">Qty :</div>
<div class="b" style="left:1099px;top:598px;width:321px;height:1px;background:#e3e6e8;"></div>
<div class="t" style="top:604px;font-size:12.25px;line-height:14px;color:#444;left:1103.40px;transform:scaleX(0.9785);transform-origin:0 0;">(6) Isabel Bakos</div>
<div class="t" style="top:623px;font-size:11.25px;line-height:12px;color:#9aa0a6;left:1103.40px;transform:scaleX(1.0710);transform-origin:0 0;">06-02-2018 08:16 PM</div>
<div class="t" style="top:603px;font-size:14.50px;line-height:16px;color:#444;left:1381.79px;transform:scaleX(0.9300);transform-origin:0 0;">3,576</div>
<div class="t" style="top:622px;font-size:11.75px;line-height:13px;color:#444;left:1409.33px;transform:scaleX(0.9500);transform-origin:0 0;">2</div>
<div class="t" style="top:622px;font-size:11.75px;line-height:13px;color:#9aa0a6;left:1380.83px;transform:scaleX(0.9697);transform-origin:0 0;">Qty :</div>
<div class="b" style="left:1099px;top:641px;width:321px;height:1px;background:#e3e6e8;"></div>
<div class="t" style="top:647px;font-size:12.25px;line-height:14px;color:#444;left:1103.40px;transform:scaleX(0.9785);transform-origin:0 0;">(7) Isabel Bakos</div>
<div class="t" style="top:666px;font-size:11.25px;line-height:12px;color:#9aa0a6;left:1103.40px;transform:scaleX(1.0710);transform-origin:0 0;">06-02-2018 08:16 PM</div>
<div class="t" style="top:646px;font-size:14.50px;line-height:16px;color:#444;left:1374.23px;transform:scaleX(0.9300);transform-origin:0 0;">17,632</div>
<div class="t" style="top:665px;font-size:11.75px;line-height:13px;color:#444;left:1409.33px;transform:scaleX(0.9500);transform-origin:0 0;">7</div>
<div class="t" style="top:665px;font-size:11.75px;line-height:13px;color:#9aa0a6;left:1380.83px;transform:scaleX(0.9697);transform-origin:0 0;">Qty :</div>
<div class="b" style="left:1099px;top:684px;width:321px;height:1px;background:#e3e6e8;"></div>
<div class="b" style="left:1099px;top:689px;width:321px;height:30px;background:#f2f2f2;border:1px solid #d6d9db;border-radius:3px;"></div>
<div class="t" style="top:695px;font-size:13.00px;line-height:15px;color:#555;left:1236.00px;transform:scaleX(1.0302);transform-origin:0 0;">Load more</div>
<svg style="left:23px;top:65.5px" width="14" height="11" viewBox="0 0 14 11"><path d="M1.2 10.5 A7 7 0 1 1 12.8 10.5Z" fill="#222836"/><circle cx="7" cy="2.2" r="0.9" fill="#fff"/><circle cx="3" cy="3.8" r="0.9" fill="#fff"/><circle cx="11" cy="3.8" r="0.9" fill="#fff"/><circle cx="1.9" cy="7.5" r="0.9" fill="#fff"/><circle cx="12.1" cy="7.5" r="0.9" fill="#fff"/><path d="M6 10 L8.6 3.6 L8.2 10Z" fill="#fff"/></svg>
<svg style="left:23px;top:97px" width="14" height="11" viewBox="0 0 14 11"><rect x="0" y="0" width="14" height="3" fill="#222836"/><rect x="8.5" y="1" width="4.5" height="1" fill="#fff"/><rect x="0" y="4" width="14" height="3" fill="#222836"/><rect x="8.5" y="5" width="4.5" height="1" fill="#fff"/><rect x="0" y="8" width="14" height="3" fill="#222836"/><rect x="8.5" y="9" width="4.5" height="1" fill="#fff"/></svg>
<svg style="left:23.5px;top:129px" width="13.5" height="12.5" viewBox="0 0 13.5 12.5"><path d="M3.2 0 H13.3 L10.6 9.6 H0.4Z" fill="#3f9a30"/><path d="M0.4 9.6 H10.6 L13.3 0.4 V2.6 L11 11.8 H0.8 C0 11.8 -0.2 10.4 0.4 9.6Z" fill="#fff" stroke="#3f9a30" stroke-width="0.9"/><rect x="5" y="2" width="5" height="1.2" fill="#fff" transform="skewX(-15)"/><rect x="5" y="4.2" width="5" height="1.2" fill="#fff" transform="skewX(-15)"/></svg>
<svg style="left:24px;top:160px" width="12" height="14" viewBox="0 0 12 14"><path d="M0 0 H7 V5 H12 V14 H0Z" fill="#3d8fc7"/><path d="M8 0 L12 4 H8Z" fill="#3d8fc7"/><rect x="2.2" y="7" width="7.6" height="1.1" fill="#fff"/><rect x="2.2" y="9.2" width="7.6" height="1.1" fill="#fff"/><rect x="2.2" y="11.4" width="7.6" height="1.1" fill="#fff"/></svg>
<svg style="left:23px;top:193.5px" width="14" height="11" viewBox="0 0 14 11"><circle cx="1.5" cy="1.2" r="1.5" fill="#3d8fc7"/><rect x="4" y="0" width="10" height="2.4" fill="#3d8fc7"/><circle cx="1.5" cy="5.2" r="1.5" fill="#3d8fc7"/><rect x="4" y="4" width="10" height="2.4" fill="#3d8fc7"/><circle cx="1.5" cy="9.2" r="1.5" fill="#3d8fc7"/><rect x="4" y="8" width="10" height="2.4" fill="#3d8fc7"/></svg>
<svg style="left:23px;top:222px" width="15" height="16" viewBox="0 0 15 16"><rect x="0.6" y="0.6" width="13.8" height="14.8" fill="#fff" stroke="#4a5560" stroke-width="1.2"/><rect x="0" y="0" width="15" height="3" fill="#4a5560"/><rect x="2.6" y="5" width="1.4" height="1.3" fill="#4a5560"/><rect x="5" y="5" width="7.5" height="1.3" fill="#4a5560"/><rect x="2.6" y="7.5" width="1.4" height="1.3" fill="#4a5560"/><rect x="5" y="7.5" width="7.5" height="1.3" fill="#4a5560"/><rect x="2.6" y="10" width="1.4" height="1.3" fill="#4a5560"/><rect x="5" y="10" width="7.5" height="1.3" fill="#4a5560"/><rect x="2.6" y="12.5" width="1.4" height="1.3" fill="#4a5560"/><rect x="5" y="12.5" width="7.5" height="1.3" fill="#4a5560"/></svg>
<svg style="left:22px;top:255px" width="16" height="14" viewBox="0 0 16 14"><rect x="0" y="0" width="16" height="14" fill="#4a5560"/><path d="M0.3 0.3 L8 9.3 L15.7 0.3 M0.3 13.7 L5.6 7.6 M15.7 13.7 L10.4 7.6" stroke="#fff" stroke-width="1.5" fill="none"/></svg>
<svg style="left:23px;top:288px" width="14" height="14" viewBox="0 0 14 14"><rect x="0" y="2" width="14" height="12" fill="#3f9a30"/><rect x="3" y="0" width="2.2" height="4" rx="1" fill="#3f9a30" stroke="#fff" stroke-width="0.6"/><rect x="8.8" y="0" width="2.2" height="4" rx="1" fill="#3f9a30" stroke="#fff" stroke-width="0.6"/><rect x="1.2" y="5.2" width="2.2" height="2.2" fill="#fff"/><rect x="1.2" y="8.05" width="2.2" height="2.2" fill="#fff"/><rect x="1.2" y="10.9" width="2.2" height="2.2" fill="#fff"/><rect x="4.25" y="5.2" width="2.2" height="2.2" fill="#fff"/><rect x="4.25" y="8.05" width="2.2" height="2.2" fill="#fff"/><rect x="4.25" y="10.9" width="2.2" height="2.2" fill="#fff"/><rect x="7.3" y="5.2" width="2.2" height="2.2" fill="#fff"/><rect x="7.3" y="8.05" width="2.2" height="2.2" fill="#fff"/><rect x="7.3" y="10.9" width="2.2" height="2.2" fill="#fff"/><rect x="10.349999999999998" y="5.2" width="2.2" height="2.2" fill="#fff"/><rect x="10.349999999999998" y="8.05" width="2.2" height="2.2" fill="#fff"/><rect x="10.349999999999998" y="10.9" width="2.2" height="2.2" fill="#fff"/></svg>
<svg style="left:23px;top:322px" width="14" height="11" viewBox="0 0 14 11"><path d="M0 0.6 H2.8 L4.3 8 H13" stroke="#4a3aa8" stroke-width="1.4" fill="none"/><path d="M3.2 1.8 H14 V6.4 L4.2 7Z" fill="#4a3aa8"/><rect x="4.3" y="8.5" width="1.8" height="2.5" fill="#4a3aa8"/><rect x="11.4" y="8.5" width="1.8" height="2.5" fill="#4a3aa8"/></svg>
<svg style="left:21px;top:352px" width="17" height="14" viewBox="0 0 17 14"><path d="M4.5 2.2 l4 -2 l4 2 v4.4 l-4 2 l-4 -2Z" fill="#fff" stroke="#3a4550" stroke-width="1.1"/><path d="M4.5 2.2 l4 2 v4.4 l-4 -2Z" fill="#3a4550"/><path d="M0.5 7.5 l4 -2 l4 2 v4.4 l-4 2 l-4 -2Z" fill="#fff" stroke="#3a4550" stroke-width="1.1"/><path d="M0.5 7.5 l4 2 v4.4 l-4 -2Z" fill="#3a4550"/><path d="M8.5 7.5 l4 -2 l4 2 v4.4 l-4 2 l-4 -2Z" fill="#fff" stroke="#3a4550" stroke-width="1.1"/><path d="M8.5 7.5 l4 2 v4.4 l-4 -2Z" fill="#3a4550"/></svg>
<svg style="left:23px;top:386px" width="14" height="11" viewBox="0 0 14 11"><rect x="0" y="0" width="14" height="11" rx="1" fill="#3f9a30"/><path d="M0.5 2.5 L7 6.5 L13.5 2.5" stroke="#fff" stroke-width="1.4" fill="none"/></svg>
<svg style="left:23px;top:417.5px" width="14" height="12" viewBox="0 0 14 12"><path d="M5 0 H14 V9 H2 V5.5 L4 2.5 H5Z" fill="#3d8fc7"/><path d="M3 5 L4.6 3 H5 V5Z" fill="#fff"/><circle cx="4.2" cy="9.5" r="2.2" fill="#3d8fc7" stroke="#fff" stroke-width="1"/><circle cx="11.2" cy="9.5" r="2.2" fill="#3d8fc7" stroke="#fff" stroke-width="1"/></svg>
<svg style="left:22px;top:446px" width="16" height="16" viewBox="0 0 16 16"><rect x="0" y="0" width="3" height="2.8" fill="#4a3aa8"/><rect x="4.5" y="0" width="11.5" height="2.8" fill="#4a3aa8"/><rect x="0" y="4.4" width="3" height="2.8" fill="#4a3aa8"/><rect x="4.5" y="4.4" width="11.5" height="2.8" fill="#4a3aa8"/><rect x="0" y="8.8" width="3" height="2.8" fill="#4a3aa8"/><rect x="4.5" y="8.8" width="11.5" height="2.8" fill="#4a3aa8"/><rect x="0" y="13.2" width="3" height="2.8" fill="#4a3aa8"/><rect x="4.5" y="13.2" width="11.5" height="2.8" fill="#4a3aa8"/></svg>
<svg style="left:22px;top:479px" width="17" height="16" viewBox="0 0 17 16"><path d="M8.5 0.8 L16 4.8 L8.5 8.8 L1 4.8Z" fill="none" stroke="#3d8fc7" stroke-width="1.2"/><path d="M3 6.8 L1 8 L8.5 12 L16 8 L14 6.8" fill="none" stroke="#3d8fc7" stroke-width="1.2"/><path d="M3 10 L1 11.2 L8.5 15.2 L16 11.2 L14 10" fill="none" stroke="#3d8fc7" stroke-width="1.2"/></svg>
<svg style="left:24px;top:512.5px" width="12" height="12" viewBox="0 0 12 12"><circle cx="6" cy="6" r="6" fill="#3d8fc7"/><circle cx="6.3" cy="2.9" r="1.2" fill="#fff"/><path d="M4.3 5 H7.3 V8.6 H8.2 V9.8 H4.3 V8.6 H5.2 V6.2 H4.3Z" fill="#fff"/></svg>
<svg style="left:22px;top:544px" width="16" height="14" viewBox="0 0 16 14"><circle cx="8" cy="4" r="3" fill="#4a5560"/><path d="M3.5 13.8 V10.5 C3.5 8.5 5.5 7.5 8 7.5 C10.5 7.5 12.5 8.5 12.5 10.5 V13.8Z" fill="#4a5560"/><circle cx="3" cy="2.2" r="2" fill="#4a5560"/><circle cx="13" cy="2.2" r="2" fill="#4a5560"/><path d="M0 9 V6.5 C0 5.3 1.5 4.8 3 4.8 C4 4.8 4.8 5.2 5 5.5 C4.5 6.3 5 7 5.5 7.3 C3.5 7.8 3 8.5 2.8 9Z" fill="#4a5560"/><path d="M16 9 V6.5 C16 5.3 14.5 4.8 13 4.8 C12 4.8 11.2 5.2 11 5.5 C11.5 6.3 11 7 10.5 7.3 C12.5 7.8 13 8.5 13.2 9Z" fill="#4a5560"/></svg>
<svg style="left:22px;top:575px" width="17" height="16" viewBox="0 0 17 16"><path d="M1 15.2 C1 12 3 11 6 10 C5 9 4 7.5 4 5 C4 2.2 6 0.8 8 0.8 C10 0.8 12 2.2 12 5 C12 7.5 11 9 10 10 C12 10.6 14 11.5 15 12.5 C15.5 13.5 15.8 14 15 14.5 C14.3 14.8 13.8 14.5 13.5 14 M1 15.2 H12 M8 0.8 C10 0.6 13 1.8 13.5 4.5" fill="none" stroke="#4a5560" stroke-width="1.1"/></svg>
<svg style="left:22px;top:607px" width="16" height="16" viewBox="0 0 16 16"><path d="M0.8 1.5 L8 2.8 L15.2 1.5 V14 L8 15.2 L0.8 14Z M8 2.8 V15.2" fill="none" stroke="#4a3aa8" stroke-width="1.2"/><path d="M2.6 4.5 L6.4 5.1 M9.6 5.1 L13.4 4.5" stroke="#4a3aa8" stroke-width="1"/><path d="M2.6 7 L6.4 7.6 M9.6 7.6 L13.4 7" stroke="#4a3aa8" stroke-width="1"/><path d="M2.6 9.5 L6.4 10.1 M9.6 10.1 L13.4 9.5" stroke="#4a3aa8" stroke-width="1"/><path d="M2.6 12 L6.4 12.6 M9.6 12.6 L13.4 12" stroke="#4a3aa8" stroke-width="1"/></svg>
<svg style="left:24px;top:640px" width="11" height="14" viewBox="0 0 11 14"><rect x="0" y="0" width="11" height="14" fill="#4a5560"/><rect x="2" y="2" width="1.4" height="1.4" fill="#fff"/><rect x="2" y="4.6" width="1.4" height="1.4" fill="#fff"/><rect x="2" y="7.2" width="1.4" height="1.4" fill="#fff"/><rect x="4.8" y="2" width="1.4" height="1.4" fill="#fff"/><rect x="4.8" y="4.6" width="1.4" height="1.4" fill="#fff"/><rect x="4.8" y="7.2" width="1.4" height="1.4" fill="#fff"/><rect x="7.6" y="2" width="1.4" height="1.4" fill="#fff"/><rect x="7.6" y="4.6" width="1.4" height="1.4" fill="#fff"/><rect x="7.6" y="7.2" width="1.4" height="1.4" fill="#fff"/><rect x="3.5" y="10.5" width="4" height="2.5" fill="#fff"/></svg>
<svg style="left:23px;top:673px" width="14" height="11" viewBox="0 0 14 11"><rect x="0.6" y="0.6" width="12.8" height="9.8" rx="1" fill="#fff" stroke="#4a5560" stroke-width="1.2"/><rect x="0" y="0" width="14" height="2.6" rx="1" fill="#4a5560"/><rect x="2.5" y="4" width="1.2" height="1.2" fill="#4a5560"/><rect x="4.8" y="4" width="7" height="1.2" fill="#4a5560"/><rect x="2.5" y="6.2" width="1.2" height="1.2" fill="#4a5560"/><rect x="4.8" y="6.2" width="7" height="1.2" fill="#4a5560"/><rect x="2.5" y="8.4" width="1.2" height="1.2" fill="#4a5560"/><rect x="4.8" y="8.4" width="7" height="1.2" fill="#4a5560"/></svg>
<svg style="left:1226px;top:17px" width="17" height="15" viewBox="0 0 17 15"><path d="M6.8 1 C3.3 1 0.9 3 0.9 5.4 C0.9 6.9 1.8 8.1 3.2 8.9 L2.6 11 L5.3 9.6 C5.8 9.7 6.3 9.8 6.8 9.8 C10.3 9.8 12.7 7.8 12.7 5.4 C12.7 3 10.3 1 6.8 1Z" fill="none" stroke="#fff" stroke-width="1.5"/><path d="M13.6 4.8 C15.3 5.6 16.2 6.9 16.2 8.3 C16.2 9.5 15.6 10.5 14.6 11.2 L15.2 13.8 L12.5 12.3 C12 12.4 11.5 12.5 11 12.5 C9.3 12.5 7.8 11.9 6.9 11" fill="none" stroke="#fff" stroke-width="1.5"/></svg>
<svg style="left:1263px;top:19px" width="14" height="12" viewBox="0 0 14 12"><path d="M8.2 0 H14 V5.8Z M5.8 12 H0 V6.2Z" fill="#fff"/><path d="M2.4 9.6 L11.6 2.4" stroke="#fff" stroke-width="2.2"/></svg>
<svg style="left:1299px;top:16px" width="14" height="15" viewBox="0 0 14 15"><path d="M7 1.2 C4.2 1.2 2.8 3.4 2.8 6 V8.8 L1 11.6 H13 L11.2 8.8 V6 C11.2 3.4 9.8 1.2 7 1.2Z" fill="none" stroke="#fff" stroke-width="1.5" stroke-linejoin="round"/><circle cx="7" cy="0.9" r="0.9" fill="#fff"/><path d="M5.2 12.8 C5.4 14 6.1 14.6 7 14.6 C7.9 14.6 8.6 14 8.8 12.8" fill="none" stroke="#fff" stroke-width="1.3"/></svg>
<svg style="left:384px;top:357.5px" width="13" height="14" viewBox="0 0 13 14"><rect x="0.5" y="2.5" width="12" height="11" fill="#fff" stroke="#2e3344" stroke-width="1"/><rect x="0" y="2" width="13" height="2.4" fill="#2e3344"/><rect x="2.6" y="0" width="1.8" height="3.6" rx="0.8" fill="#2e3344"/><rect x="8.6" y="0" width="1.8" height="3.6" rx="0.8" fill="#2e3344"/><rect x="3.5" y="4.4" width="0.65" height="9" fill="#2e3344"/><rect x="6.2" y="4.4" width="0.65" height="9" fill="#2e3344"/><rect x="8.9" y="4.4" width="0.65" height="9" fill="#2e3344"/><rect x="0" y="7.3" width="13" height="0.65" fill="#2e3344"/><rect x="0" y="10.2" width="13" height="0.65" fill="#2e3344"/></svg>
<svg style="left:1290px;top:127px" width="13" height="14" viewBox="0 0 13 14"><rect x="0.5" y="2.5" width="12" height="11" fill="#fff" stroke="#2e3344" stroke-width="1"/><rect x="0" y="2" width="13" height="2.4" fill="#2e3344"/><rect x="2.6" y="0" width="1.8" height="3.6" rx="0.8" fill="#2e3344"/><rect x="8.6" y="0" width="1.8" height="3.6" rx="0.8" fill="#2e3344"/><rect x="3.5" y="4.4" width="0.65" height="9" fill="#2e3344"/><rect x="6.2" y="4.4" width="0.65" height="9" fill="#2e3344"/><rect x="8.9" y="4.4" width="0.65" height="9" fill="#2e3344"/><rect x="0" y="7.3" width="13" height="0.65" fill="#2e3344"/><rect x="0" y="10.2" width="13" height="0.65" fill="#2e3344"/></svg>
<svg style="left:1420px;top:359px" width="13" height="14" viewBox="0 0 13 14"><rect x="0.5" y="2.5" width="12" height="11" fill="#fff" stroke="#2e3344" stroke-width="1"/><rect x="0" y="2" width="13" height="2.4" fill="#2e3344"/><rect x="2.6" y="0" width="1.8" height="3.6" rx="0.8" fill="#2e3344"/><rect x="8.6" y="0" width="1.8" height="3.6" rx="0.8" fill="#2e3344"/><rect x="3.5" y="4.4" width="0.65" height="9" fill="#2e3344"/><rect x="6.2" y="4.4" width="0.65" height="9" fill="#2e3344"/><rect x="8.9" y="4.4" width="0.65" height="9" fill="#2e3344"/><rect x="0" y="7.3" width="13" height="0.65" fill="#2e3344"/><rect x="0" y="10.2" width="13" height="0.65" fill="#2e3344"/></svg>
</div></body></html>
